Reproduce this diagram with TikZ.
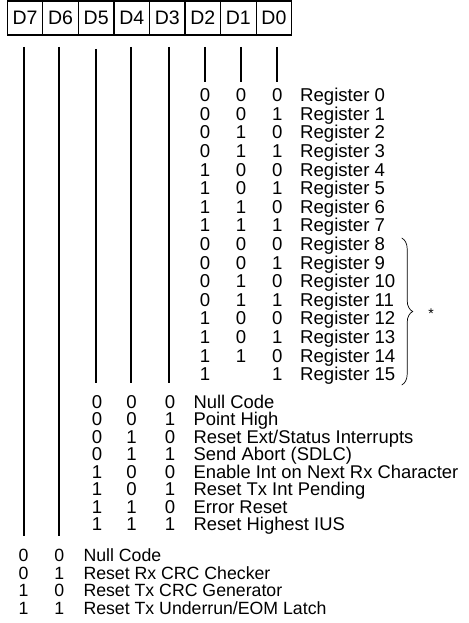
\documentclass[tikz,border=0pt]{standalone}
\usepackage{fontspec}
\setmainfont{Liberation Sans}
\usetikzlibrary{decorations.pathreplacing}
\begin{document}
\begin{tikzpicture}[x=1pt,y=-1pt,
  txt/.style={font=\fontsize{18.6}{18.6}\selectfont, inner sep=0pt},
  lbl/.style={txt, anchor=base west},
  dig/.style={txt, anchor=base},
  small/.style={font=\fontsize{17.7}{17.7}\selectfont},
  cell/.style={draw, line width=1.2pt, minimum width=35.55pt, minimum height=34pt, inner sep=0pt, font=\fontsize{19.5}{19.5}\selectfont},
  bitline/.style={line width=1.7pt}]
\useasboundingbox (0,0) rectangle (468,623);
% register box
\foreach \n [count=\i from 0] in {7,6,5,4,3,2,1,0}
  \node[cell] (c\n) at ({7.3+35.55*(\i+0.5)},18) {D\n};
% bit lines
\coordinate (t7) at (24,47);    \coordinate (e7) at (24,536);
\coordinate (t6) at (59.3,47);  \coordinate (e6) at (59.3,536);
\coordinate (t5) at (95.7,49);  \coordinate (e5) at (95.7,383);
\coordinate (t4) at (130.7,47); \coordinate (e4) at (130.7,383);
\coordinate (t3) at (169,47);   \coordinate (e3) at (169,383);
\coordinate (t2) at (205,47);   \coordinate (e2) at (205,82.5);
\coordinate (t1) at (240.7,47); \coordinate (e1) at (240.7,82.5);
\coordinate (t0) at (277.3,47); \coordinate (e0) at (277.3,82.5);
\foreach \n in {7,...,0} \draw[bitline] (t\n) -- (e\n);
% registers
\foreach \a/\b/\c [count=\k from 0] in {0/0/0,0/0/1,0/1/0,0/1/1,1/0/0,1/0/1,1/1/0,1/1/1,0/0/0,0/0/1,0/1/0,0/1/1,1/0/0,1/0/1,1/1/0,1//1}{
  \pgfmathsetmacro\yy{101.7+18.6*\k}
  \node[dig] (ra\k) at (205,\yy) {\a};
  \node[dig] (rb\k) at (241,\yy) {\b};
  \node[dig] (rc\k) at (277.3,\yy) {\c};
  \node[lbl] (rl\k) at (300,\yy) {Register \k};
}
% brace
\coordinate (bt) at (401.7,238);
\coordinate (bb) at (401.7,385);
\draw[line width=0.7pt, decorate, decoration={brace, amplitude=11pt}] (bt) -- (bb);
\node[inner sep=0pt, font=\fontsize{14}{14}\selectfont] (star) at (431,313.5) {*};
% commands D5-D3
\foreach \a/\b/\c/\t [count=\k from 0] in {0/0/0/Null Code,0/0/1/Point High,0/1/0/Reset Ext\slash Status Interrupts,0/1/1/Send Abort (SDLC),1/0/0/Enable Int on Next Rx Character,1/0/1/Reset Tx Int Pending,1/1/0/Error Reset,1/1/1/Reset Highest IUS}{
  \pgfmathsetmacro\yy{408.4+17.5*\k}
  \node[dig] (ca\k) at (97,\yy) {\a};
  \node[dig] (cb\k) at (131.5,\yy) {\b};
  \node[dig] (cc\k) at (170,\yy) {\c};
  \node[lbl, font=\fontsize{18.4}{18.4}\selectfont] (cl\k) at (193.3,\yy) {\t};
}
% CRC D7-D6
\foreach \a/\b/\t [count=\k from 0] in {0/0/Null Code,0/1/Reset Rx CRC Checker,1/0/Reset Tx CRC Generator,1/1/Reset Tx Underrun\slash EOM Latch}{
  \pgfmathsetmacro\yy{561.7+17.6*\k}
  \node[dig, small] (xa\k) at (23.5,\yy) {\a};
  \node[dig, small] (xb\k) at (59.3,\yy) {\b};
  \node[lbl, small] (xl\k) at (83.3,\yy) {\t};
}
\end{tikzpicture}
\end{document}
